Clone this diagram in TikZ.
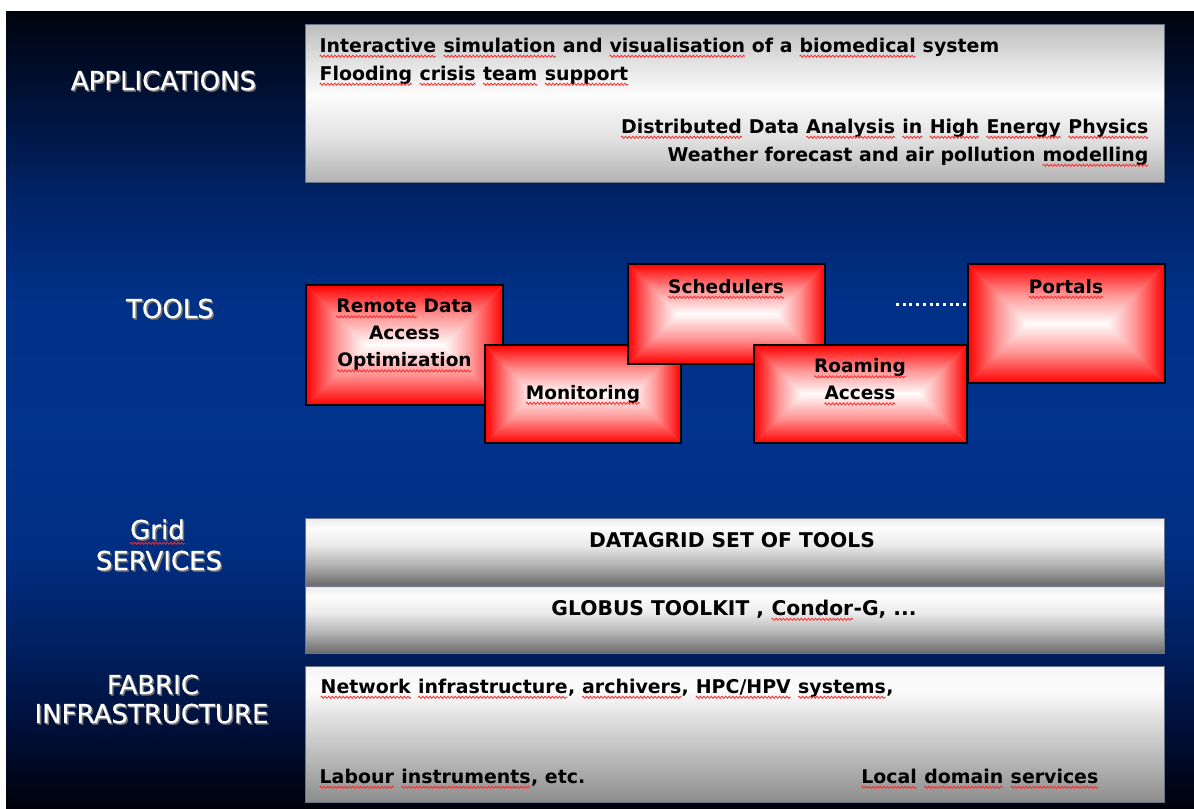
\documentclass[tikz,border=0pt]{standalone}
\usepackage{fontspec}
\usetikzlibrary{decorations.pathmorphing}
\setmainfont{DejaVu Sans}
\newfontfamily\captionfont{DejaVu Sans}[FakeBold=0.6]

\definecolor{glowred}{RGB}{255,0,0}
\definecolor{spellred}{RGB}{255,40,40}

% red wavy underline for words flagged by the spell checker
\newcommand\sqw[1]{\tikz[baseline=(sqword.base), x=1pt, y=1pt]{%
  \node[inner sep=0pt, outer sep=0pt, anchor=base] (sqword) at (0,0) {#1};
  \draw[spellred, line width=0.6pt, decorate,
        decoration={zigzag, amplitude=0.8pt, segment length=2.7pt}]
    ([yshift=-3.2pt]sqword.base west) -- ([yshift=-3.2pt]sqword.base east);}}

% vertical night-blue backdrop (path maps to 25bp..75bp)
\pgfdeclareverticalshading{backdrop}{100bp}{%
  rgb(0bp)=(0,0.008,0.04);
  rgb(25bp)=(0,0.008,0.04);
  rgb(29.9bp)=(0,0.06,0.22);
  rgb(34.9bp)=(0,0.12,0.37);
  rgb(41.2bp)=(0,0.18,0.51);
  rgb(48.7bp)=(0,0.2,0.55);
  rgb(56.9bp)=(0,0.19,0.53);
  rgb(63.1bp)=(0,0.14,0.41);
  rgb(69.4bp)=(0,0.07,0.22);
  rgb(75bp)=(0,0.016,0.055);
  rgb(100bp)=(0,0.016,0.055)}

% grey bands
\pgfdeclareverticalshading{appband}{100bp}{%
  gray(0bp)=(0.70); gray(25bp)=(0.70); gray(38.3bp)=(0.88);
  gray(52.5bp)=(0.99); gray(63.6bp)=(0.88); gray(75bp)=(0.74); gray(100bp)=(0.74)}
\pgfdeclareverticalshading{midband}{100bp}{%
  gray(0bp)=(0.42); gray(25bp)=(0.42); gray(40bp)=(0.70);
  gray(54.9bp)=(0.92); gray(67.5bp)=(0.99); gray(75bp)=(0.92); gray(100bp)=(0.92)}
\pgfdeclareverticalshading{fabband}{100bp}{%
  gray(0bp)=(0.55); gray(25bp)=(0.55); gray(36.8bp)=(0.68);
  gray(55.1bp)=(0.87); gray(66.2bp)=(0.99); gray(75bp)=(0.96); gray(100bp)=(0.96)}

\tikzset{
  layerlabel/.style={text=white, inner sep=0pt, anchor=base,
    font=\captionfont\fontsize{19.5pt}{23pt}\selectfont},
  layershadow/.style={text=black!55, inner sep=0pt, anchor=base,
    font=\captionfont\fontsize{19.5pt}{23pt}\selectfont},
  band/.style={draw={rgb,255:red,110;green,116;blue,135}, line width=0.75pt,
    inner sep=0pt, anchor=center},
  tool/.style={draw=black, line width=1.1pt, inner sep=0pt, anchor=center},
  boxtext/.style={text=black, inner sep=0pt,
    font=\fontsize{14.2pt}{21pt}\selectfont\bfseries},
  toolfont/.style={text=black, inner sep=0pt, anchor=base,
    font=\fontsize{13.9pt}{20.3pt}\selectfont\bfseries},
  gridfont/.style={text=black, inner sep=0pt, anchor=base,
    font=\fontsize{15.2pt}{18pt}\selectfont\bfseries},
  pinkmid/.style={middle color=glowred!42!white},
}

% red box that fades to a white ridge in its middle:
% #1 name, #2 centre x, #3 centre y, #4 width, #5 height (pixel units)
\newcommand\glowbox[5]{%
  \pgfmathsetmacro\gxa{#2-#4/2}\pgfmathsetmacro\gxb{#2+#4/2}%
  \pgfmathsetmacro\gya{#3-#5/2}\pgfmathsetmacro\gyb{#3+#5/2}%
  \pgfmathsetmacro\grl{#2-#4/2+#5/2}\pgfmathsetmacro\grr{#2+#4/2-#5/2}%
  \pgfmathsetmacro\gmu{#3+0.8}\pgfmathsetmacro\gmd{#3-0.8}%
  \fill[glowred!30!white] (\gxa,\gya) rectangle (\gxb,\gyb);
  \shade[top color=glowred, bottom color=white, pinkmid]
    (\gxa,\gya) -- (\gxb,\gya) -- (\grr,\gmu) -- (\grl,\gmu) -- cycle;
  \shade[bottom color=glowred, top color=white, pinkmid]
    (\gxa,\gyb) -- (\gxb,\gyb) -- (\grr,\gmd) -- (\grl,\gmd) -- cycle;
  \shade[left color=glowred, right color=white, pinkmid]
    (\gxa,\gya) -- (\grl,#3) -- (\gxa,\gyb) -- cycle;
  \shade[right color=glowred, left color=white, pinkmid]
    (\gxb,\gya) -- (\grr,#3) -- (\gxb,\gyb) -- cycle;
  \node[tool, minimum width=#4*0.75pt, minimum height=#5*0.75pt] (#1) at (#2,#3) {};%
}

\begin{document}
\begin{tikzpicture}[x=0.75pt, y=-0.75pt]
  \useasboundingbox (0,0) rectangle (1194,808);
  \fill[white] (0,0) rectangle (1194,808);
  \shade[shading=backdrop] (6,11) rectangle (1194,808);

  % layer captions, each with a faint drop shadow
  \foreach \cx/\cy/\txt/\nm in {163.5/90/APPLICATIONS/lapp, 170/318/TOOLS/ltool,
      159/570/SERVICES/lserv, 153/694/FABRIC/lfab, 151.5/723/INFRASTRUCTURE/linf}{
    \node[layershadow] (\nm s) at (\cx+1.5,\cy+1.5) {\txt};
    \node[layerlabel] (\nm) at (\cx,\cy) {\txt};
  }
  \node[layershadow] (lgrids) at (159,540.5) {Grid};
  \node[layerlabel] (lgrid) at (157.5,539) {\sqw{Grid}};

  % applications layer
  \node[band, shading=appband, minimum width=859*0.75pt, minimum height=158*0.75pt]
    (apps) at (734.5,103) {};
  \node[boxtext, anchor=base west] (appleft) at (319,52)
    {\begin{tabular}[t]{@{}l@{}}\sqw{Interactive} \sqw{simulation} and \sqw{visualisation} of a \sqw{biomedical} system\\
      \sqw{Flooding} \sqw{crisis} \sqw{team} \sqw{support}\end{tabular}};
  \node[boxtext, anchor=base east] (appright) at (1149,133)
    {\begin{tabular}[t]{@{}r@{}}\sqw{Distributed} Data \sqw{Analysis} \sqw{in} \sqw{High} \sqw{Energy} \sqw{Physics}\\
      Weather forecast and air pollution \sqw{modelling}\end{tabular}};

  % tools layer
  \glowbox{remote}{404.5}{345}{197}{120}
  \node[toolfont] (remotet) at (404.5,312.5)
    {\begin{tabular}[t]{@{}c@{}}\sqw{Remote} Data\\Access\\\sqw{Optimization}\end{tabular}};
  \glowbox{monit}{583}{394}{196}{98}
  \node[toolfont] (monitt) at (583,399) {\sqw{Monitoring}};
  \glowbox{sched}{726.5}{314}{197}{100}
  \node[toolfont] (schedt) at (726,293) {\sqw{Schedulers}};
  \glowbox{roam}{860.5}{394}{213}{98}
  \node[toolfont] (roamt) at (860,372.5)
    {\begin{tabular}[t]{@{}c@{}}\sqw{Roaming}\\\sqw{Access}\end{tabular}};
  \glowbox{portal}{1066.5}{323.5}{197}{119}
  \node[toolfont] (portalt) at (1066,293) {\sqw{Portals}};

  % more tools to come
  \coordinate (dotsA) at (896,304);
  \coordinate (dotsB) at (966,304);
  \draw[white, line width=2.25pt, dash pattern=on 2.25pt off 2.78pt] (dotsA) -- (dotsB);

  % grid services layer
  \node[band, shading=midband, minimum width=859*0.75pt, minimum height=67*0.75pt]
    (datagrid) at (734.5,551.5) {};
  \node[gridfont] (datagridt) at (732,547) {DATAGRID SET OF TOOLS};
  \node[band, shading=midband, minimum width=859*0.75pt, minimum height=67*0.75pt]
    (globus) at (734.5,619.5) {};
  \node[gridfont] (globust) at (734,615) {GLOBUS TOOLKIT , \sqw{Condor}-G, ...};

  % fabric layer
  \node[band, shading=fabband, minimum width=859*0.75pt, minimum height=136*0.75pt]
    (fabric) at (734.5,734) {};
  \node[boxtext, anchor=base west] (fabnet) at (320,693)
    {\sqw{Network} \sqw{infrastructure}, \sqw{archivers}, \sqw{HPC/HPV} \sqw{systems},};
  \node[boxtext, anchor=base west] (fablab) at (319,783) {\sqw{Labour} \sqw{instruments}, etc.};
  \node[boxtext, anchor=base east] (fabloc) at (1099,783) {\sqw{Local} \sqw{domain} \sqw{services}};
\end{tikzpicture}
\end{document}
